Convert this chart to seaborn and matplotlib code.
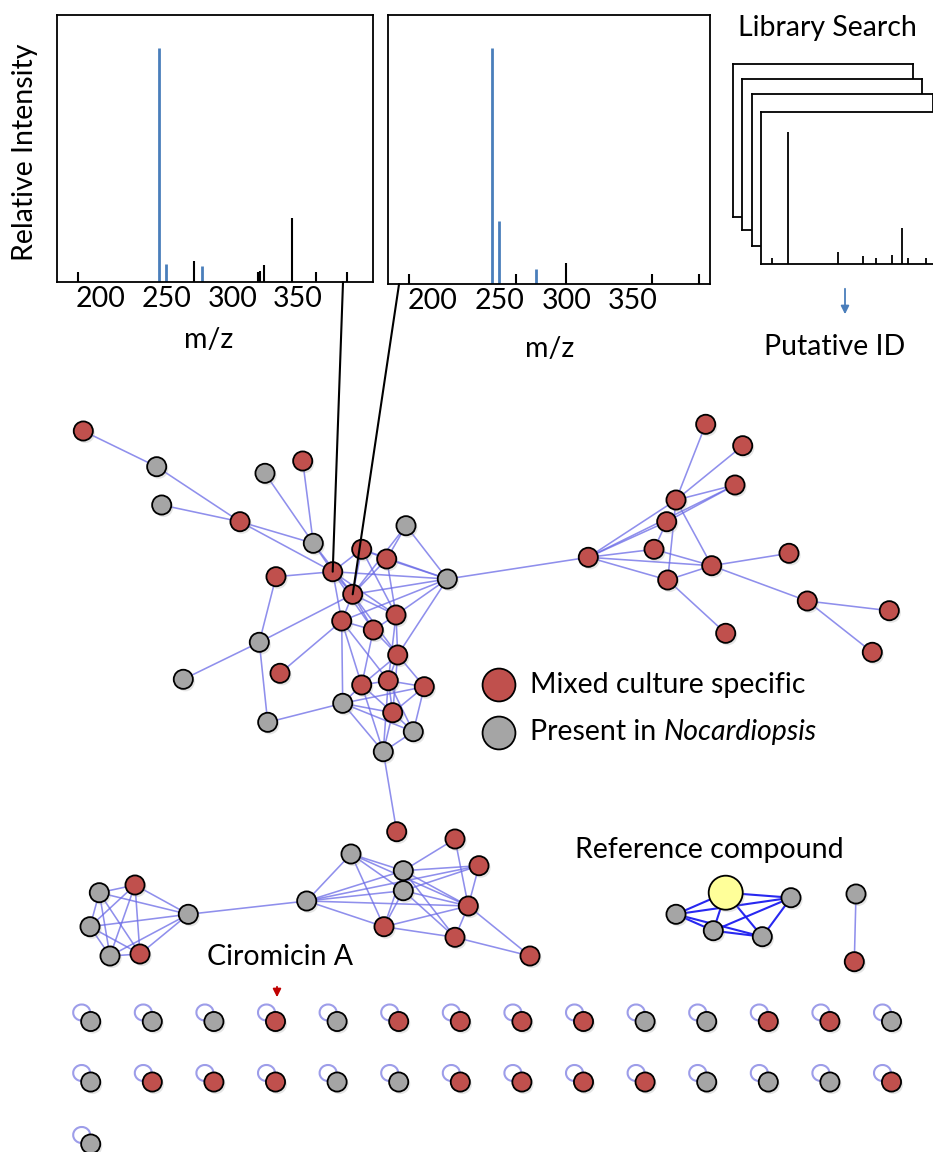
import matplotlib
matplotlib.use("Agg")
import matplotlib.pyplot as plt
import seaborn as sns
import pandas as pd
from matplotlib.collections import LineCollection
from matplotlib.patches import Arc, ConnectionPatch

# ---------------- data ----------------
# MS/MS spectrum 1 (left panel)
spec1_mz = [182.6, 244.2, 249.8, 270.7, 276.8, 319.9, 321.2, 324.0, 345.2, 363.4, 387.6]
spec1_int = [4.3, 100, 7.7, 9.0, 6.8, 4.3, 4.7, 7.3, 27.4, 4.3, 4.3]
spec1_shared = [0, 1, 1, 0, 1, 0, 0, 0, 0, 0, 0]
# MS/MS spectrum 2 (middle panel)
spec2_mz = [182.0, 244.0, 249.5, 262.3, 277.3, 300.0, 364.0, 399.5]
spec2_int = [4.3, 100, 26.5, 4.3, 6.4, 9.0, 4.3, 4.3]
spec2_shared = [0, 1, 1, 0, 1, 0, 0, 0]
mz_ticks = [200, 250, 300, 350]
# library spectrum (front card)
lib_pos = [11.6, 27.6, 77.6, 102.0, 115.0, 131.3, 141.3, 147.0, 165.3]
lib_int = [4.5, 100, 9.0, 6.6, 4.5, 6.8, 27.0, 4.5, 4.5]

# network nodes: id, x, y, group
node_id = ["A", "B", "C", "D", "E", "F", "G", "H", "I", "J", "K", "L", "M", "N", "O", "P", "Q",
           "R", "S", "T", "U", "V", "W", "X", "Y", "Z", "AA", "AB", "AC",
           "r1", "r2", "r3", "r4", "r5", "r6", "r7", "r8", "r9", "r10", "r11", "r12", "r13", "r14",
           "g1", "g2", "g3", "g4", "g5", "g6", "g7", "g8", "g9", "g10", "g11", "g12", "g13", "g14",
           "g15", "g16", "g17",
           "c0", "c1", "c2", "c3", "c4", "p1", "p2"]
node_x = [83.3, 156.7, 161.7, 240.0, 265.0, 302.7, 313.3, 361.7, 386.7, 406.0, 447.3, 332.7, 276.0,
          352.7, 341.7, 373.3, 396.0, 259.3, 397.7, 183.3, 280.0, 361.7, 388.3, 424.3, 342.7, 392.7,
          267.7, 413.3, 383.3,
          705.7, 742.7, 735.0, 676.0, 666.7, 654.0, 588.3, 711.7, 667.7, 789.0, 807.3, 889.3, 872.3, 725.7,
          99.3, 135.0, 90.0, 110.0, 140.0, 188.3, 306.7, 351.0, 403.3, 403.3, 396.7, 455.0, 479.0, 468.3,
          384.0, 455.0, 530.0,
          725.7, 676.0, 713.3, 762.3, 791.0, 856.0, 854.3]
node_y = [431.0, 466.7, 505.0, 521.7, 473.3, 461.0, 543.3, 549.3, 559.0, 525.7, 579.0, 571.7, 576.7,
          594.3, 621.0, 630.0, 615.0, 642.3, 655.0, 679.3, 673.3, 685.0, 680.7, 686.7, 703.3, 712.7,
          722.3, 731.7, 751.7,
          424.3, 445.7, 485.0, 500.0, 521.7, 549.3, 557.3, 565.7, 580.0, 553.3, 601.0, 610.7, 652.3, 633.3,
          892.7, 885.0, 926.7, 956.0, 954.0, 914.3, 901.0, 854.0, 870.7, 890.7, 831.7, 839.0, 865.7, 906.0,
          926.7, 937.3, 956.0,
          892.7, 914.3, 930.7, 936.7, 897.7, 894.0, 961.7]
node_group = ["Mixed", "Noc", "Noc", "Mixed", "Noc", "Mixed", "Noc", "Mixed", "Mixed", "Noc", "Noc",
              "Mixed", "Mixed", "Mixed", "Mixed", "Mixed", "Mixed", "Noc", "Mixed", "Noc", "Mixed",
              "Mixed", "Mixed", "Mixed", "Noc", "Mixed", "Noc", "Noc", "Noc",
              "Mixed", "Mixed", "Mixed", "Mixed", "Mixed", "Mixed", "Mixed", "Mixed", "Mixed", "Mixed",
              "Mixed", "Mixed", "Mixed", "Mixed",
              "Noc", "Mixed", "Noc", "Noc", "Mixed", "Noc", "Noc", "Noc", "Noc", "Noc", "Mixed", "Mixed",
              "Mixed", "Mixed", "Mixed", "Mixed", "Mixed",
              "Ref", "Noc", "Noc", "Noc", "Noc", "Noc", "Mixed"]

edges = [("A", "B"), ("B", "D"), ("C", "D"), ("D", "G"), ("D", "L"), ("E", "G"), ("F", "G"), ("G", "L"),
         ("G", "N"), ("M", "L"), ("M", "R"), ("R", "N"), ("T", "R"), ("R", "AA"), ("AA", "Y"), ("U", "O"),
         ("H", "I"), ("H", "L"), ("H", "N"), ("H", "K"), ("H", "Q"), ("J", "I"), ("J", "K"), ("J", "N"),
         ("K", "L"), ("K", "N"), ("K", "Q"), ("K", "I"), ("K", "O"), ("K", "S"), ("L", "N"), ("L", "O"),
         ("L", "P"), ("L", "Q"), ("N", "O"), ("N", "P"), ("N", "Q"), ("N", "I"), ("N", "S"), ("O", "Y"),
         ("O", "V"), ("O", "P"), ("O", "W"), ("P", "S"), ("P", "V"), ("P", "Q"), ("Q", "S"), ("Q", "W"),
         ("Q", "I"), ("S", "W"), ("S", "V"), ("S", "X"), ("S", "Z"), ("V", "W"), ("V", "Y"), ("V", "Z"),
         ("V", "AC"), ("W", "X"), ("W", "Z"), ("W", "AB"), ("W", "AC"), ("X", "Z"), ("X", "AB"), ("X", "Y"),
         ("Y", "Z"), ("Y", "AB"), ("Y", "AC"), ("Z", "AB"), ("Z", "AC"), ("AB", "AC"), ("AC", "g11"),
         ("K", "r7"),
         ("r7", "r4"), ("r7", "r3"), ("r7", "r5"), ("r7", "r6"), ("r7", "r8"), ("r7", "r9"), ("r4", "r1"),
         ("r4", "r2"), ("r4", "r3"), ("r4", "r8"), ("r4", "r9"), ("r5", "r3"), ("r5", "r6"), ("r6", "r8"),
         ("r8", "r10"), ("r8", "r11"), ("r8", "r9"), ("r9", "r14"), ("r11", "r12"), ("r11", "r13"),
         ("g1", "g2"), ("g1", "g3"), ("g1", "g4"), ("g1", "g5"), ("g1", "g6"), ("g2", "g3"), ("g2", "g4"),
         ("g2", "g5"), ("g2", "g6"), ("g3", "g4"), ("g3", "g5"), ("g3", "g6"), ("g4", "g5"), ("g4", "g6"),
         ("g5", "g6"), ("g6", "g7"), ("g7", "g8"), ("g7", "g9"), ("g7", "g10"), ("g7", "g15"), ("g7", "g14"),
         ("g7", "g13"), ("g8", "g9"), ("g8", "g10"), ("g8", "g15"), ("g8", "g14"), ("g9", "g12"),
         ("g9", "g13"), ("g9", "g14"), ("g9", "g16"), ("g9", "g10"), ("g9", "g15"), ("g10", "g15"),
         ("g10", "g16"), ("g10", "g13"), ("g10", "g14"), ("g12", "g14"), ("g13", "g14"), ("g14", "g15"),
         ("g14", "g16"), ("g14", "g17"), ("g15", "g16"), ("g16", "g17"),
         ("p1", "p2")]
ref_edges = [("c0", "c1"), ("c0", "c2"), ("c0", "c3"), ("c0", "c4"), ("c1", "c2"), ("c1", "c3"),
             ("c1", "c4"), ("c2", "c3"), ("c2", "c4"), ("c3", "c4")]

# singleton (self-looped) nodes, three rows
single_row1 = ["Noc", "Noc", "Noc", "Mixed", "Noc", "Mixed", "Mixed", "Mixed", "Mixed", "Noc", "Noc",
               "Mixed", "Mixed", "Noc"]
single_row2 = ["Noc", "Mixed", "Mixed", "Mixed", "Noc", "Noc", "Mixed", "Mixed", "Mixed", "Mixed", "Noc",
               "Noc", "Noc", "Mixed"]
single_row3 = ["Noc"]

# ---------------- style ----------------
sns.set_style("white")
plt.rcParams["font.family"] = ["Lato", "DejaVu Sans"]
plt.rcParams["text.color"] = "black"
plt.rcParams["xtick.color"] = "black"
plt.rcParams["xtick.labelcolor"] = "black"
FS = 20.5
RED, GRAY, YEL = "#c0504d", "#a5a5a5", "#ffff99"
BLUE_PEAK = "#4a7ebb"
EDGE_C = "#6a6ae6"
palette = {"Mixed": RED, "Noc": GRAY, "Ref": YEL}
sizes = {"Mixed": 190, "Noc": 190, "Ref": 600}

W, H = 933, 1152
fig = plt.figure(figsize=(W / 100, H / 100), dpi=100)


def px_axes(l, t, r, b):
    return fig.add_axes([l / W, 1 - b / H, (r - l) / W, (b - t) / H])


# network axes in pixel units
axn = fig.add_axes([0, 0, 1, 1])
axn.set_xlim(0, W)
axn.set_ylim(H, 0)
axn.axis("off")

nodes = pd.DataFrame({"id": node_id, "x": node_x, "y": node_y, "group": node_group})
pos = {i: (x, y) for i, x, y in zip(node_id, node_x, node_y)}

segs = [[pos[a], pos[b]] for a, b in edges]
axn.add_collection(LineCollection(segs, colors=EDGE_C, linewidths=1.15, alpha=0.75, zorder=1))
rsegs = [[pos[a], pos[b]] for a, b in ref_edges]
axn.add_collection(LineCollection(rsegs, colors="#1c1cf0", linewidths=1.5, alpha=0.95, zorder=1))

# singletons
srows = []
for r, row in enumerate([single_row1, single_row2, single_row3]):
    for c, g in enumerate(row):
        srows.append({"x": 90.7 + 61.6 * c, "y": 1021.5 + 60.5 * r + (1.5 if r == 2 else 0), "group": g})
singles = pd.DataFrame(srows)
for x, y in zip(singles["x"], singles["y"]):
    axn.add_patch(Arc((x - 9, y - 9), 17, 16, theta1=0, theta2=360, color="#8c8ce6", lw=1.5,
                      alpha=0.85, zorder=1))

allnodes = pd.concat([nodes[["x", "y", "group"]], singles], ignore_index=True)
# soft drop shadow
shadow = allnodes.assign(x=allnodes["x"] + 2, y=allnodes["y"] + 2.5)
sns.scatterplot(data=shadow, x="x", y="y", size="group", sizes=sizes, color="#999999", alpha=0.25,
                linewidth=0, legend=False, ax=axn, zorder=2)
sns.scatterplot(data=allnodes, x="x", y="y", hue="group", size="group", sizes=sizes, palette=palette,
                edgecolor="black", linewidth=1.3, legend=False, ax=axn, zorder=3)
axn.set_xlim(0, W)
axn.set_ylim(H, 0)
axn.axis("off")

# legend
leg = pd.DataFrame({"x": [499, 499], "y": [685, 733], "group": ["Mixed", "Noc"]})
sns.scatterplot(data=leg, x="x", y="y", hue="group", palette=palette, s=560, edgecolor="black",
                linewidth=1.3, legend=False, ax=axn, zorder=3)
axn.text(530, 685, "Mixed culture specific", fontsize=FS, va="center", ha="left")
t_pres = axn.text(530, 732, "Present in ", fontsize=FS, va="center", ha="left")

# annotations
axn.text(709, 850, "Reference compound", fontsize=FS, va="center", ha="center")
axn.text(280, 957, "Ciromicin A", fontsize=FS, va="center", ha="center")
axn.annotate("", xy=(277, 1000), xytext=(277, 984),
             arrowprops=dict(arrowstyle="-|>", color="#c00000", lw=1.3, mutation_scale=12))
axn.text(827, 28, "Library Search", fontsize=FS, va="center", ha="center")
axn.text(835, 347, "Putative ID", fontsize=FS, va="center", ha="center")
axn.annotate("", xy=(845, 317), xytext=(845, 286),
             arrowprops=dict(arrowstyle="-|>", color=BLUE_PEAK, lw=1.3, mutation_scale=12))
axn.text(25, 152, "Relative Intensity", fontsize=FS, va="center", ha="center", rotation=90)
axn.text(209, 340, "m/z", fontsize=FS, va="center", ha="center")
axn.text(550, 349, "m/z", fontsize=FS, va="center", ha="center")


# spectra
def draw_spec(ax, mz, inten, shared, xlim):
    cols = [BLUE_PEAK if s else "black" for s in shared]
    lws = [2.0 if s else 1.5 for s in shared]
    for m, i, c, w in zip(mz, inten, cols, lws):
        ax.vlines(m, 0, i, color=c, lw=w)
    ax.set_xlim(*xlim)
    ax.set_ylim(0, 114)
    ax.set_yticks([])
    ax.set_xticks(mz_ticks)
    ax.set_xticklabels([str(t) for t in mz_ticks])
    ax.tick_params(axis="x", length=0, labelsize=FS, pad=3, colors="black")
    for s in ax.spines.values():
        s.set_visible(True)
        s.set_color("black")
        s.set_linewidth(1.3)
    ax.set_facecolor("white")


ax1 = px_axes(57, 15, 373, 282)
draw_spec(ax1, spec1_mz, spec1_int, spec1_shared, (166.7, 407.0))
ax2 = px_axes(388, 15, 710, 284)
draw_spec(ax2, spec2_mz, spec2_int, spec2_shared, (166.2, 407.8))

# library cards
cards = [(732.7, 64.3, 912.7, 216.7), (741.7, 78.7, 922.0, 230.0), (752.3, 94.3, 932.7, 246.0),
         (760.7, 112.3, 945.0, 264.3)]
for k, (l, t, r, b) in enumerate(cards):
    axc = px_axes(l, t, r, b)
    axc.set_facecolor("white")
    axc.set_xticks([])
    axc.set_yticks([])
    for s in axc.spines.values():
        s.set_visible(True)
        s.set_color("black")
        s.set_linewidth(1.3)
    axc.set_xlim(0, r - l)
    axc.set_ylim(0, 114.6)
    if k == len(cards) - 1:
        axc.vlines(lib_pos, 0, lib_int, color="black", lw=1.3)

# connectors from spectra to nodes
for ax, mzv, node in [(ax1, 384.2, "L"), (ax2, 174.5, "N")]:
    cp = ConnectionPatch(xyA=(mzv, 0), coordsA=ax.transData, xyB=pos[node], coordsB=axn.transData,
                         color="black", lw=1.5, zorder=2)
    fig.add_artist(cp)

# italic part of legend label
fig.canvas.draw()
bb = t_pres.get_window_extent()
x_end = axn.transData.inverted().transform((bb.x1, bb.y0))[0]
axn.text(x_end, 732, "Nocardiopsis", fontsize=FS, va="center", ha="left", style="italic")

fig.savefig("out.png", dpi=100)
